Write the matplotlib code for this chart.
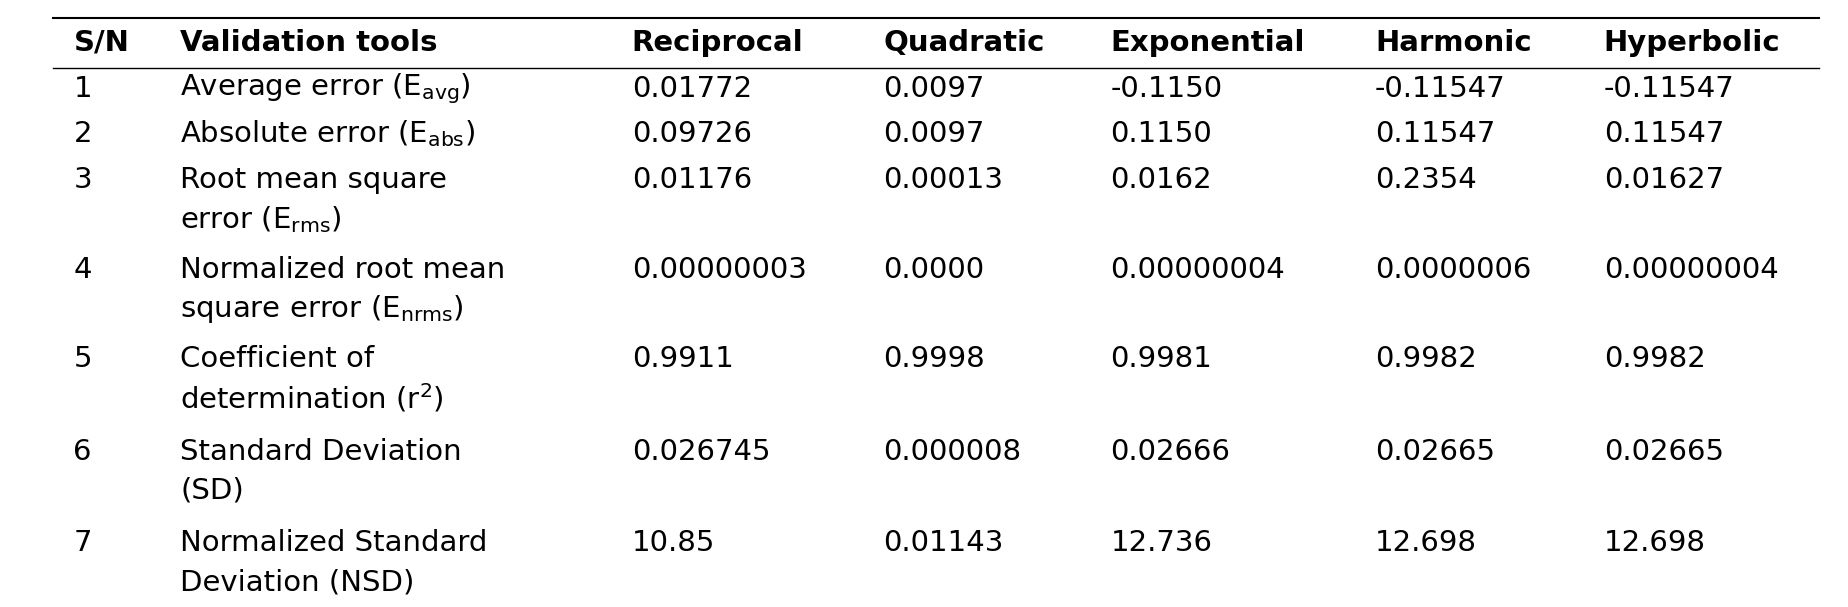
import matplotlib
matplotlib.use("Agg")
import matplotlib.pyplot as plt

headers = ["S/N", "Validation tools", "Reciprocal", "Quadratic", "Exponential", "Harmonic", "Hyperbolic"]
sn = ["1", "2", "3", "4", "5", "6", "7"]
tools = [
    ["Average error (E$_{\\mathregular{avg}}$)"],
    ["Absolute error (E$_{\\mathregular{abs}}$)"],
    ["Root mean square", "error (E$_{\\mathregular{rms}}$)"],
    ["Normalized root mean", "square error (E$_{\\mathregular{nrms}}$)"],
    ["Coefficient of", "determination (r$^{\\mathregular{2}}$)"],
    ["Standard Deviation", "(SD)"],
    ["Normalized Standard", "Deviation (NSD)"],
]
reciprocal = ["0.01772", "0.09726", "0.01176", "0.00000003", "0.9911", "0.026745", "10.85"]
quadratic = ["0.0097", "0.0097", "0.00013", "0.0000", "0.9998", "0.000008", "0.01143"]
exponential = ["-0.1150", "0.1150", "0.0162", "0.00000004", "0.9981", "0.02666", "12.736"]
harmonic = ["-0.11547", "0.11547", "0.2354", "0.0000006", "0.9982", "0.02665", "12.698"]
hyperbolic = ["-0.11547", "0.11547", "0.01627", "0.00000004", "0.9982", "0.02665", "12.698"]

W, H = 1560.0, 512.0
fig = plt.figure(figsize=(18.49, 6.07), dpi=100)
ax = fig.add_axes([0, 0, 1, 1])
ax.set_xlim(0, W); ax.set_ylim(H, 0); ax.axis("off")

colx = [62, 152, 533, 745, 937, 1160, 1353]
fs = 21
for x, h in zip(colx, headers):
    ax.text(x, 36, h, fontsize=fs, fontweight="bold", va="center", ha="left", family="DejaVu Sans")
ax.plot([45, 1535], [15, 15], color="black", lw=1.5)
ax.plot([45, 1535], [57, 57], color="black", lw=1)

rowy = [75, 113, 152, 228, 303, 381, 458]
dy = 33
cols = [reciprocal, quadratic, exponential, harmonic, hyperbolic]
for i, y in enumerate(rowy):
    ax.text(colx[0], y, sn[i], fontsize=fs, va="center")
    for j, line in enumerate(tools[i]):
        ax.text(colx[1], y + j * dy, line, fontsize=fs, va="center")
    for k, c in enumerate(cols):
        ax.text(colx[2 + k], y, c[i], fontsize=fs, va="center")

fig.savefig("out.png", dpi=100)
